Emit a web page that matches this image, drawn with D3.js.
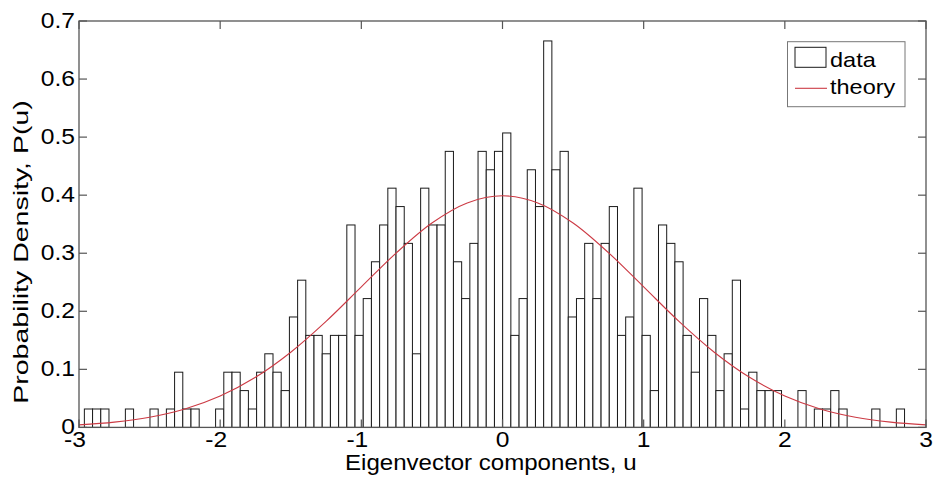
<!DOCTYPE html>
<html>
<head>
<meta charset="utf-8">
<script src="https://cdn.jsdelivr.net/npm/d3@7"></script>
<style>
  html, body { margin: 0; padding: 0; background: #fff; }
  svg { display: block; font-family: "Liberation Sans", Arial, sans-serif; }
</style>
</head>
<body>
<svg id="chart" width="936" height="483"></svg>
<script>
// ---- data ----
const binStart = -2.962;          // left edge of the first histogram bin
const binWidth = 0.0581;          // width of each bin (100 bins)
const binCounts = [
  1,1,1,0,0,1,0,0,1,0,
  1,3,1,1,0,0,1,3,3,2,
  1,3,4,3,2,6,8,5,5,4,
  5,5,11,5,7,9,11,13,12,10,
  4,13,11,11,15,9,7,10,15,14,
  15,16,5,7,14,12,21,14,15,6,
  7,10,7,10,12,5,6,13,5,2,
  11,10,9,5,3,7,5,2,4,8,
  1,3,2,2,2,0,0,2,0,1,
  1,2,1,0,0,0,1,0,0,1
];
const theoryU = [-3,-2.75,-2.5,-2.25,-2,-1.75,-1.5,-1.25,-1,-0.75,-0.5,-0.25,0,
                 0.25,0.5,0.75,1,1.25,1.5,1.75,2,2.25,2.5,2.75,3];
const theoryP = [0.0044,0.0091,0.0175,0.0317,0.054,0.0863,0.1295,0.1826,0.242,0.3011,0.3521,0.3867,0.3989,
                 0.3867,0.3521,0.3011,0.242,0.1826,0.1295,0.0863,0.054,0.0317,0.0175,0.0091,0.0044];
const xTicks = [-3,-2,-1,0,1,2,3];
const yTicks = [0,0.1,0.2,0.3,0.4,0.5,0.6,0.7];
const xLabel = "Eigenvector components, u";
const yLabel = "Probability Density, P(u)";
const legendLabels = ["data", "theory"];

// ---- layout ----
const L = 79, R = 926, T = 21, B = 427.4;
const SX = 1.12;          // horizontal stretch of the reference text
const FS = 22;
const svg = d3.select("#chart");

const x = d3.scaleLinear().domain([-3, 3]).range([L, R]);
const y = d3.scaleLinear().domain([0, 0.7]).range([B, T]);

const total = d3.sum(binCounts);
const bins = binCounts.map((c, i) => ({
  x0: binStart + i * binWidth,
  x1: binStart + (i + 1) * binWidth,
  p: c / (total * binWidth)
}));

// bars
svg.append("g").selectAll("rect").data(bins).join("rect")
  .attr("x", d => x(d.x0))
  .attr("width", d => x(d.x1) - x(d.x0))
  .attr("y", d => y(d.p))
  .attr("height", d => y(0) - y(d.p))
  .attr("fill", "#fff")
  .attr("stroke", "#1a1a1a")
  .attr("stroke-width", 1);

// theory curve
const pts = theoryU.map((u, i) => [u, theoryP[i]]);
svg.append("path").datum(pts)
  .attr("fill", "none")
  .attr("stroke", "#cc3a44")
  .attr("stroke-width", 1.1)
  .attr("d", d3.line().x(d => x(d[0])).y(d => y(d[1])).curve(d3.curveCatmullRom));

// axes box
const axisColor = "#555";
svg.append("rect").attr("x", L).attr("y", T).attr("width", R - L).attr("height", B - T)
  .attr("fill", "none").attr("stroke", axisColor).attr("stroke-width", 1.3);

const TL = 8;
const tk = svg.append("g").attr("stroke", axisColor).attr("stroke-width", 1.2);
xTicks.forEach(v => {
  tk.append("line").attr("x1", x(v)).attr("x2", x(v)).attr("y1", B).attr("y2", B - TL);
  tk.append("line").attr("x1", x(v)).attr("x2", x(v)).attr("y1", T).attr("y2", T + TL);
});
yTicks.forEach(v => {
  tk.append("line").attr("x1", L).attr("x2", L + TL).attr("y1", y(v)).attr("y2", y(v));
  tk.append("line").attr("x1", R).attr("x2", R - TL).attr("y1", y(v)).attr("y2", y(v));
});

function stxt(g, str, px, py, anchor, size) {
  return g.append("text")
    .attr("transform", `translate(${px},${py}) scale(${SX},1)`)
    .attr("text-anchor", anchor)
    .attr("font-size", size)
    .attr("fill", "#000")
    .text(str);
}

const tl = svg.append("g");
yTicks.forEach(v => {
  stxt(tl, d3.format("")(v), L - 4, y(v) + 7, "end", FS);
});
xTicks.forEach(v => {
  const dx = v < 0 ? -4 : 0;
  stxt(tl, d3.format("")(v).replace("\u2212", "-"), x(v) + dx, 447, "middle", FS);
});

// axis labels
stxt(svg, xLabel, 345, 470, "start", 21.5);
svg.append("text")
  .attr("transform", `translate(28,252) rotate(-90) scale(1,0.72)`)
  .attr("text-anchor", "middle")
  .attr("font-size", 28.5)
  .text(yLabel);

// legend
const lg = svg.append("g");
lg.append("rect").attr("x", 787.5).attr("y", 41.7).attr("width", 117.5).attr("height", 65)
  .attr("fill", "#fff").attr("stroke", "#777").attr("stroke-width", 1);
lg.append("rect").attr("x", 795).attr("y", 47.3).attr("width", 31).attr("height", 20)
  .attr("fill", "#fff").attr("stroke", "#1a1a1a").attr("stroke-width", 1);
lg.append("line").attr("x1", 795).attr("x2", 827).attr("y1", 88.3).attr("y2", 88.3)
  .attr("stroke", "#cc3a44").attr("stroke-width", 1.1);
stxt(lg, legendLabels[0], 830, 66.7, "start", 21);
stxt(lg, legendLabels[1], 830, 93.5, "start", 21);
</script>
</body>
</html>
